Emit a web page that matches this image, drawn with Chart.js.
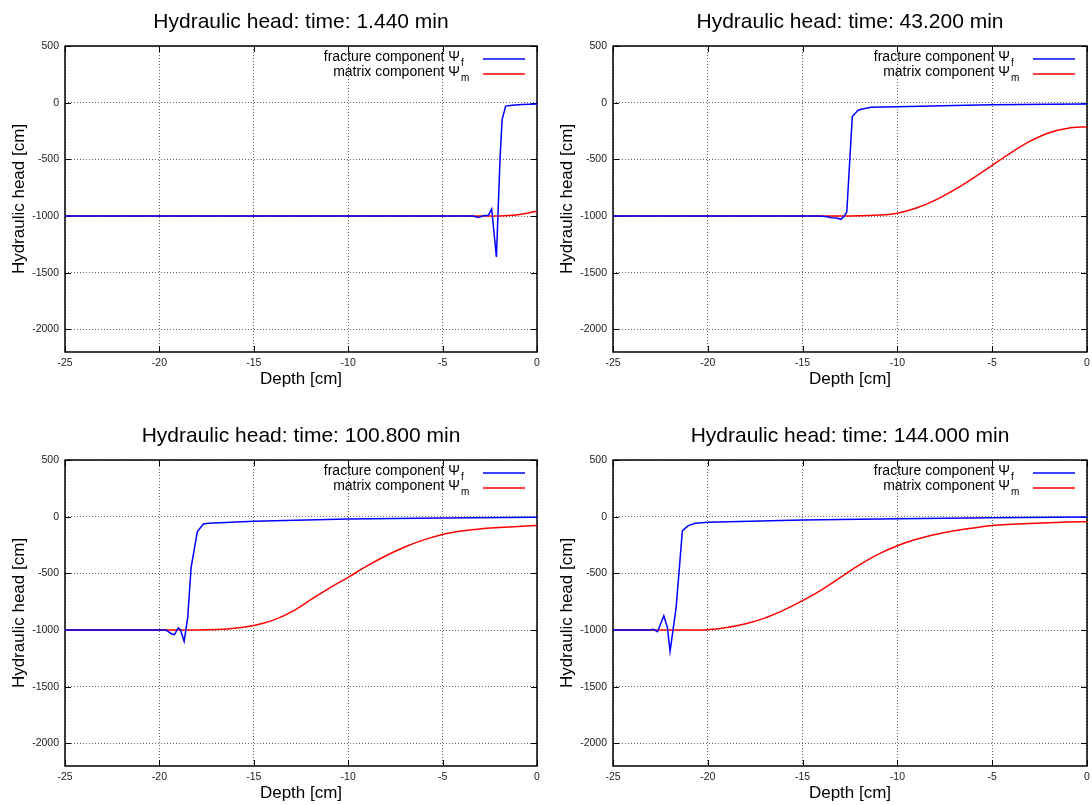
<!DOCTYPE html>
<html>
<head>
<meta charset="utf-8">
<title>Hydraulic head</title>
<script src="https://cdn.jsdelivr.net/npm/chart.js@4.4.1/dist/chart.umd.min.js"></script>
<style>
	html, body { margin: 0; padding: 0; background: #fff; }
	#wrap { position: relative; width: 1092px; height: 805px; overflow: hidden; }
	canvas { position: absolute; }
</style>
</head>
<body>
<div id="wrap">
	<canvas id="c1" width="546" height="400" style="left:0;top:0"></canvas>
	<canvas id="c2" width="546" height="400" style="left:546px;top:0"></canvas>
	<canvas id="c3" width="546" height="400" style="left:0;top:414px"></canvas>
	<canvas id="c4" width="546" height="400" style="left:546px;top:414px"></canvas>
</div>
<script>
// axes
const depthTicks = [-25, -20, -15, -10, -5, 0];
const headTicks = [500, 0, -500, -1000, -1500, -2000];

// t = 1.440 min
const frac1Depth = [-25, -3.4, -3.1, -2.84, -2.58, -2.4, -2.15, -1.96, -1.85, -1.66, -1.3, -0.8, 0];
const frac1Head = [-1000, -1000, -1014, -998, -994, -939, -1362, -505, -152, -30, -22, -16, -12];
const matr1Depth = [-25, -2.5, -1.5, -1, -0.5, 0];
const matr1Head = [-1000, -1000, -995, -988, -975, -957];

// t = 43.200 min
const frac2Depth = [-25, -14.2, -13.8, -13.45, -13.2, -12.98, -12.8, -12.67, -12.38, -12.06, -11.41, -10, -7, -5, -2, 0];
const frac2Head = [-1000, -1000, -1005, -1015, -1018, -1029, -1000, -965, -123, -64, -41, -35, -25, -18, -13, -12];
const matr2Depth = [-25, -13, -12, -11, -10, -9, -8, -7, -6, -5, -4, -3, -2, -1, 0];
const matr2Head = [-1000, -1000, -998, -992, -975, -930, -860, -770, -665, -553, -440, -340, -265, -226, -212];

// t = 100.800 min
const frac3Depth = [-25, -19.8, -19.65, -19.34, -19.2, -19.0, -18.88, -18.69, -18.5, -18.32, -17.99, -17.67, -17.4, -15, -10, -5, 0];
const frac3Head = [-1000, -1000, -1002, -1035, -1040, -982, -1000, -1100, -888, -447, -132, -65, -59, -41, -21, -12, -6];
const matr3Depth = [-25, -18, -17, -16, -15, -14, -13, -12, -11, -10, -9, -8, -7, -6, -5, -4, -3, -2, -1, 0];
const matr3Head = [-1000, -1000, -996, -985, -960, -915, -840, -735, -630, -535, -435, -345, -268, -205, -157, -127, -108, -96, -86, -79];

// t = 144.000 min
const frac4Depth = [-25, -23.3, -23.06, -22.87, -22.65, -22.32, -22.13, -21.99, -21.67, -21.34, -21.03, -20.66, -20, -15, -10, -5, 0];
const frac4Head = [-1000, -1000, -1000, -994, -1015, -874, -976, -1188, -800, -124, -79, -59, -50, -29, -18, -9, -3];
const matr4Depth = [-25, -21, -20, -19, -18, -17, -16, -15, -14, -13, -12, -11, -10, -9, -8, -7, -6, -5, -4, -3, -2, -1, 0];
const matr4Head = [-1000, -1000, -997, -978, -945, -895, -825, -741, -645, -535, -425, -330, -256, -200, -158, -125, -100, -79, -68, -60, -54, -48, -44];

const FONT = "'Liberation Sans', Arial, sans-serif";
Chart.defaults.font.family = FONT;
Chart.defaults.color = '#000';

const toPoints = (xs, ys) => xs.map((x, i) => ({ x: x, y: ys[i] }));

// black box round the plot, with gnuplot style inward ticks on all four sides
const framePlugin = {
	id: 'frame',
	beforeDatasetsDraw(chart) {
		const { ctx, chartArea: a, scales: { x, y } } = chart;
		ctx.save();
		ctx.strokeStyle = '#000';
		ctx.lineWidth = 1;
		ctx.beginPath();
		x.ticks.forEach(t => {
			const px = Math.round(x.getPixelForValue(t.value)) + 0.5;
			ctx.moveTo(px, a.bottom); ctx.lineTo(px, a.bottom - 6);
			ctx.moveTo(px, a.top); ctx.lineTo(px, a.top + 6);
		});
		y.ticks.forEach(t => {
			const py = Math.round(y.getPixelForValue(t.value)) + 0.5;
			ctx.moveTo(a.left, py); ctx.lineTo(a.left + 6, py);
			ctx.moveTo(a.right, py); ctx.lineTo(a.right - 6, py);
		});
		ctx.stroke();
		ctx.lineWidth = 1.5;
		ctx.strokeRect(a.left, a.top, a.right - a.left, a.bottom - a.top);
		ctx.restore();
	}
};

// legend with subscripts (Psi_f, Psi_m), top right inside the plot
const psiLegend = {
	id: 'psiLegend',
	afterDatasetsDraw(chart) {
		const { ctx, chartArea: a } = chart;
		ctx.save();
		chart.data.datasets.forEach((ds, i) => {
			const ly = a.top + 13 + i * 15;
			ctx.strokeStyle = ds.borderColor;
			ctx.lineWidth = 1.5;
			ctx.beginPath();
			ctx.moveTo(a.right - 54, ly);
			ctx.lineTo(a.right - 12, ly);
			ctx.stroke();

			const textRight = a.right - 77;
			ctx.fillStyle = '#000';
			ctx.textBaseline = 'middle';
			ctx.textAlign = 'right';
			ctx.font = '14px ' + FONT;
			ctx.fillText(ds.label, textRight, ly - 2);
			ctx.textAlign = 'left';
			ctx.font = '10px ' + FONT;
			ctx.fillText(ds.sub, textRight + 1, ly + 4);
		});
		ctx.restore();
	}
};

const panels = [
	{ id: 'c1', time: '1.440', fd: frac1Depth, fh: frac1Head, md: matr1Depth, mh: matr1Head, yWidth: 65, padRight: 9, yTitlePad: 9 },
	{ id: 'c2', time: '43.200', fd: frac2Depth, fh: frac2Head, md: matr2Depth, mh: matr2Head, yWidth: 67, padRight: 5, yTitlePad: 11 },
	{ id: 'c3', time: '100.800', fd: frac3Depth, fh: frac3Head, md: matr3Depth, mh: matr3Head, yWidth: 65, padRight: 9, yTitlePad: 9 },
	{ id: 'c4', time: '144.000', fd: frac4Depth, fh: frac4Head, md: matr4Depth, mh: matr4Head, yWidth: 67, padRight: 5, yTitlePad: 11 }
];

panels.forEach(p => {
	new Chart(document.getElementById(p.id), {
		type: 'line',
		data: {
			datasets: [
				{
					label: 'fracture component \u03A8',
					sub: 'f',
					data: toPoints(p.fd, p.fh),
					borderColor: '#0000ff',
					borderWidth: 1.5,
					pointRadius: 0,
					tension: 0
				},
				{
					label: 'matrix component \u03A8',
					sub: 'm',
					data: toPoints(p.md, p.mh),
					borderColor: '#ff0000',
					borderWidth: 1.5,
					pointRadius: 0,
					cubicInterpolationMode: 'monotone'
				}
			]
		},
		options: {
			responsive: false,
			animation: false,
			devicePixelRatio: 1,
			layout: { padding: { left: 0, right: p.padRight, top: 0, bottom: 0 } },
			plugins: {
				legend: { display: false },
				tooltip: { enabled: false },
				title: {
					display: true,
					text: 'Hydraulic head: time: ' + p.time + ' min',
					fullSize: false,
					color: '#000',
					font: { size: 21, weight: 'normal' },
					padding: { top: 10, bottom: 10.8 }
				}
			},
			scales: {
				x: {
					type: 'linear',
					min: -25,
					max: 0,
					afterBuildTicks: s => { s.ticks = depthTicks.map(v => ({ value: v })); },
					afterFit: s => { s.height = 48; s.paddingLeft = 0; s.paddingRight = 2; },
					ticks: { font: { size: 10.5 }, color: '#222', padding: 5, callback: v => String(v) },
					grid: { color: 'rgba(0,0,0,0.6)', lineWidth: 1, drawTicks: false },
					border: { display: false, dash: [1, 2] },
					title: { display: true, text: 'Depth [cm]', font: { size: 17 }, padding: { top: 0, bottom: 10.5 } }
				},
				y: {
					type: 'linear',
					min: -2200,
					max: 500,
					afterBuildTicks: s => { s.ticks = headTicks.map(v => ({ value: v })); },
					afterFit: s => { s.width = p.yWidth; },
					ticks: { font: { size: 10.5 }, color: '#222', padding: 6, callback: v => String(v) },
					grid: { color: 'rgba(0,0,0,0.6)', lineWidth: 1, drawTicks: false },
					border: { display: false, dash: [1, 2] },
					title: { display: true, text: 'Hydraulic head [cm]', font: { size: 17 }, padding: { top: p.yTitlePad, bottom: 0 } }
				}
			}
		},
		plugins: [framePlugin, psiLegend]
	});
});
</script>
</body>
</html>
